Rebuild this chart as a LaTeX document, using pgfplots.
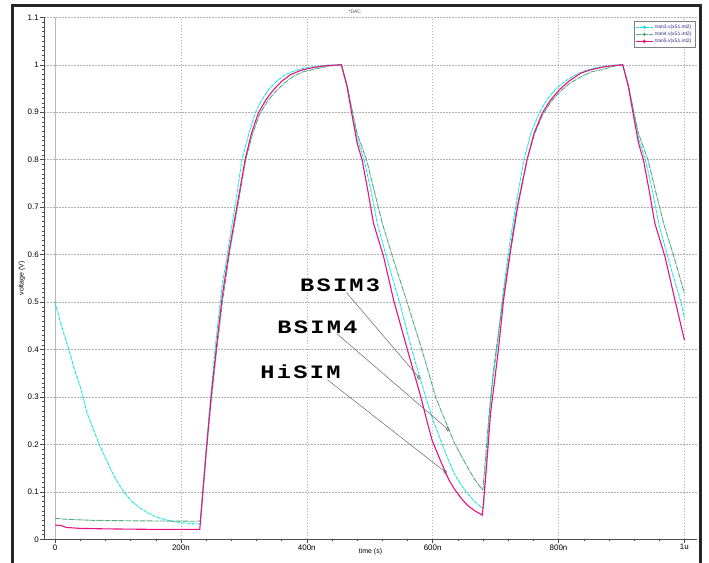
\documentclass[border=0pt]{standalone}
\usepackage{pgfplots}
\pgfplotsset{compat=1.18}
\usepackage{fontspec}
\setmainfont{Liberation Sans}
\newfontfamily\annofont[FakeStretch=1.25, LetterSpace=12]{Liberation Mono}

\definecolor{cyanc}{RGB}{20,225,225}
\definecolor{greenc}{RGB}{80,170,125}
\definecolor{magc}{RGB}{230,20,130}
\definecolor{legtext}{RGB}{40,40,140}

\begin{document}
\begin{tikzpicture}
\useasboundingbox (0,0) rectangle (709bp,-563bp);
% outer frame
\draw[line width=3bp, black!85] (12.5bp,-563bp) -- (12.5bp,-5bp) -- (700bp,-5bp) -- (700bp,-563bp);

\begin{axis}[
  at={(44bp,-539.3bp)}, anchor=south west,
  width=653bp, height=522bp, scale only axis,
  xmin=-17.5, xmax=1020,
  ymin=0, ymax=1.1,
  xtick={0,200,400,600,800,1000},
  xticklabels={0,200n,400n,600n,800n,1u},
  ytick={0,0.1,0.2,0.3,0.4,0.5,0.6,0.7,0.8,0.9,1,1.1},
  yticklabels={0,0.1,0.2,0.3,0.4,0.5,0.6,0.7,0.8,0.9,1,1.1},
  minor x tick num=4,
  minor y tick num=9,
  tick pos=left,
  tick align=outside,
  major tick length=4bp,
  minor tick length=2bp,
  every tick/.style={black!70},
  ticklabel style={font=\fontsize{8}{9}\selectfont, inner sep=1bp},
  /pgf/number format/assume math mode=true,
  xmajorgrids, ymajorgrids,
  major grid style={gray!60, dash pattern=on 1.5bp off 1.5bp},
  axis x line*=bottom, axis y line*=left,
  axis line style={-, black!70},
  every axis y label/.style={at={(axis description cs:-0.034,0.5)}, rotate=90, anchor=center},
  every axis x label/.style={at={(axis description cs:0.5,-0.024)}, anchor=center},
  label style={font=\fontsize{7}{8}\selectfont},
  ylabel={voltage (V)},
  xlabel={time (s)},
  legend style={at={(rel axis cs:0.997,0.993)}, anchor=north east,
    draw=gray, fill=white, font=\fontsize{5}{6}\selectfont, text=legtext,
    row sep=-2bp, inner sep=1.5bp},
  legend cell align=left,
  legend image post style={mark=diamond*, mark size=1.2bp, mark options={solid}},
  clip=false,
]
\draw[gray!55] (axis cs:0,0) -- (axis cs:0,1.1);

% tran3 (BSIM3)
\addplot[cyanc, line width=0.9bp, dash pattern=on 3bp off 0.7bp on 0.7bp off 0.7bp] coordinates {
(0,0.499) (5,0.475) (10,0.452) (16,0.425) (22,0.400) (30,0.362) (40,0.322) (51,0.266)
(60,0.235) (70,0.201) (80,0.172) (89,0.146) (99,0.121) (110,0.099) (122,0.080)
(136,0.065) (150,0.054) (163,0.046) (180,0.040) (200,0.035) (229,0.032)
(231,0.034) (240,0.19) (248,0.31) (255,0.41) (265,0.53) (276,0.62) (287,0.71) (297,0.80)
(308,0.855) (318,0.898) (328,0.925) (339,0.947) (352,0.965) (366,0.979) (382,0.988)
(400,0.994) (430,0.999) (455,1.0)
(464,0.956) (472,0.90) (480,0.845) (491,0.80) (502,0.735) (512,0.666) (528,0.588) (548,0.497)
(567,0.399) (589,0.299) (601,0.250) (613,0.208) (624,0.170) (634,0.139) (645,0.115)
(655,0.097) (667,0.079) (680,0.065)
(681,0.067) (690,0.26) (696,0.34) (703,0.41) (711,0.51) (722,0.62) (733,0.71) (745,0.80)
(756,0.855) (769,0.898) (781,0.925) (794,0.947) (810,0.965) (827,0.979) (843,0.988)
(860,0.994) (885,0.999) (902,1.0)
(911,0.956) (919,0.90) (927,0.845) (938,0.80) (949,0.735) (959,0.666) (975,0.588) (995,0.497) (1000,0.466)
};
\addlegendentry{tran3.v(x51.int2)}

% tran4 (BSIM4)
\addplot[greenc, line width=0.9bp, dash pattern=on 5bp off 0.7bp on 0.7bp off 0.7bp] coordinates {
(0,0.044) (10,0.043) (20,0.042) (40,0.041) (60,0.040) (120,0.039) (229,0.038)
(231,0.040) (240,0.18) (248,0.29) (257,0.40) (267,0.51) (278,0.61) (290,0.70) (303,0.80)
(314,0.855) (325,0.895) (337,0.922) (350,0.943) (364,0.961) (378,0.975) (394,0.985)
(410,0.99) (435,0.997) (455,1.0)
(464,0.957) (472,0.905) (480,0.855) (495,0.80) (507,0.735) (520,0.666) (538,0.588) (560,0.497)
(583,0.399) (605,0.299) (613,0.272) (624,0.237) (634,0.205) (645,0.177) (655,0.153)
(666,0.128) (679,0.104)
(680,0.106) (690,0.27) (696,0.35) (703,0.42) (712,0.51) (723,0.61) (734,0.70) (750,0.80)
(762,0.855) (775,0.895) (788,0.922) (802,0.943) (818,0.961) (836,0.975) (852,0.985)
(870,0.99) (888,0.997) (902,1.0)
(911,0.957) (919,0.905) (927,0.855) (942,0.80) (954,0.735) (967,0.666) (985,0.588) (1000,0.518)
};
\addlegendentry{tran4.v(x51.int2)}

% tran5 (HiSIM)
\addplot[magc, line width=1.1bp] coordinates {
(0,0.030) (10,0.029) (18,0.025) (40,0.023) (80,0.022) (150,0.021) (230,0.021)
(240,0.181) (248,0.30) (256,0.399) (266,0.515) (277,0.610) (289,0.701) (302,0.800)
(312,0.855) (323,0.898) (335,0.926) (347,0.947) (360,0.965) (374,0.979) (390,0.988)
(406,0.993) (430,0.998) (455,1.0)
(464,0.954) (472,0.893) (480,0.835) (488,0.799) (497,0.735) (506,0.666) (522,0.596) (538,0.504)
(560,0.399) (581,0.301) (590,0.254) (599,0.209) (613,0.164) (620,0.142) (626,0.125) (634,0.107)
(645,0.087) (655,0.072) (667,0.060) (679,0.051)
(686,0.16) (692,0.266) (699,0.34) (705,0.406) (713,0.508) (724,0.610) (735,0.701) (750,0.80)
(761,0.855) (774,0.898) (787,0.925) (801,0.947) (817,0.966) (835,0.982) (850,0.989)
(870,0.995) (885,0.998) (902,1.0)
(911,0.954) (919,0.893) (927,0.835) (935,0.799) (944,0.735) (953,0.666) (969,0.596) (985,0.504) (1000,0.42)
};
\addlegendentry{tran5.v(x51.int2)}

% leader lines
\addplot[gray!80!black, line width=0.5bp, mark=diamond, mark size=2bp, mark indices={2}, forget plot]
  coordinates {(463,0.520) (578,0.341)};
\addplot[gray!80!black, line width=0.5bp, mark=diamond, mark size=2bp, mark indices={2}, forget plot]
  coordinates {(448,0.433) (624,0.232)};
\addplot[gray!80!black, line width=0.5bp, mark=diamond, mark size=2bp, mark indices={2}, forget plot]
  coordinates {(433,0.336) (620,0.142)};

\node[font=\annofont\bfseries\fontsize{19}{21}\selectfont] at (axis cs:453,0.536) {BSIM3};
\node[font=\annofont\bfseries\fontsize{19}{21}\selectfont] at (axis cs:417,0.447) {BSIM4};
\node[font=\annofont\bfseries\fontsize{19}{21}\selectfont] at (axis cs:390,0.353) {HiSIM};

\node[font=\fontsize{5}{6}\selectfont, text=black!70] at (axis description cs:0.476,1.010) {*DAC};
\end{axis}
\end{tikzpicture}
\end{document}
